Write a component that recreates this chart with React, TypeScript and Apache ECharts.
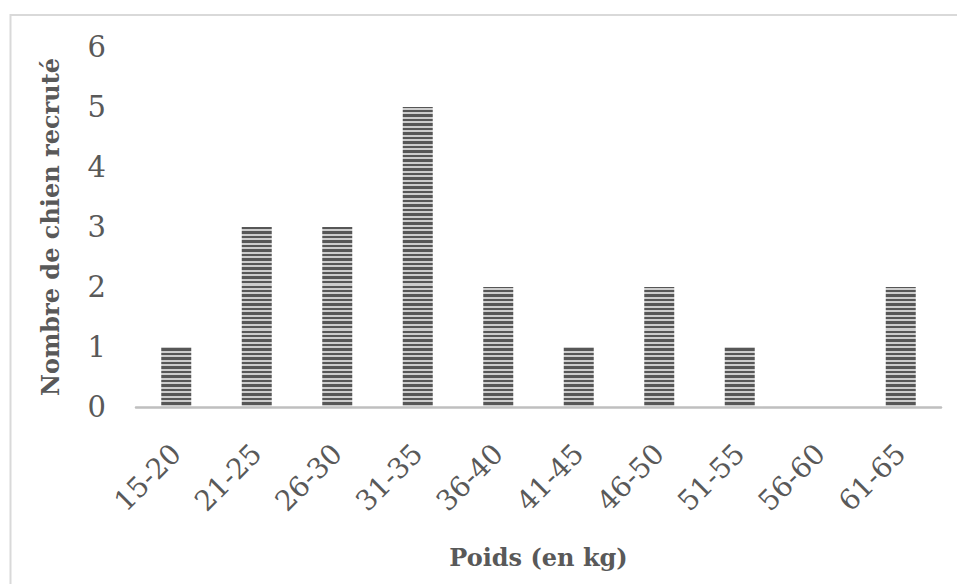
import React, { useEffect, useRef } from "react";
import * as echarts from "echarts";

const categories = ["15-20", "21-25", "26-30", "31-35", "36-40", "41-45", "46-50", "51-55", "56-60", "61-65"];
const counts = [1, 3, 3, 5, 2, 1, 2, 1, 0, 2];
const yTicks = { min: 0, max: 6, interval: 1 };
const xTitle = "Poids (en kg)";
const yTitle = "Nombre de chien recruté";

const GRID_TOP = 47;
const GRID_BOTTOM_Y = 407;

function stripeFill() {
  const stops: { offset: number; color: string }[] = [];
  const h = GRID_BOTTOM_Y - GRID_TOP;
  const period = 4.5;
  const n = Math.ceil(h / period);
  for (let i = 0; i < n; i++) {
    const a = (i * period) / h;
    const b = (i * period + 2.2) / h;
    const c = ((i + 1) * period) / h;
    stops.push({ offset: Math.min(a, 1), color: "#575757" });
    stops.push({ offset: Math.min(b, 1), color: "#575757" });
    stops.push({ offset: Math.min(b, 1), color: "#cdcdcd" });
    stops.push({ offset: Math.min(c, 1), color: "#cdcdcd" });
  }
  return new echarts.graphic.LinearGradient(0, GRID_TOP, 0, GRID_BOTTOM_Y, stops, true);
}

export default function App() {
  const ref = useRef<HTMLDivElement>(null);
  useEffect(() => {
    if (!ref.current) return;
    const chart = echarts.init(ref.current, null, { renderer: "svg" });
    const font = "DejaVu Serif";
    chart.setOption({
      animation: false,
      backgroundColor: "#ffffff",
      graphic: [
        {
          type: "rect",
          shape: { x: 10.5, y: 15, width: 960, height: 600 },
          style: { fill: "none", stroke: "#d9d9d9", lineWidth: 2 },
          silent: true,
        },
      ],
      grid: { left: 136, right: 16, top: GRID_TOP, bottom: 584 - GRID_BOTTOM_Y, containLabel: false },
      xAxis: {
        type: "category",
        data: categories,
        name: xTitle,
        nameLocation: "middle",
        nameGap: 138,
        nameTextStyle: { fontFamily: font, fontWeight: "bold", fontSize: 24, color: "#595959" },
        axisLine: { show: true, lineStyle: { color: "#bfbfbf", width: 2.5 } },
        axisTick: { show: false },
        axisLabel: {
          rotate: 45,
          margin: 42,
          fontFamily: font,
          fontSize: 28,
          color: "#595959",
        },
      },
      yAxis: {
        type: "value",
        min: yTicks.min,
        max: yTicks.max,
        interval: yTicks.interval,
        name: yTitle,
        nameLocation: "middle",
        nameGap: 74,
        nameTextStyle: { fontFamily: font, fontWeight: "bold", fontSize: 24, color: "#595959" },
        axisLine: { show: false },
        axisTick: { show: false },
        splitLine: { show: false },
        axisLabel: { margin: 30, fontFamily: font, fontSize: 29, color: "#595959" },
      },
      series: [
        {
          type: "bar",
          data: counts,
          barWidth: 30,
          itemStyle: { color: stripeFill() },
        },
      ],
    });
    return () => chart.dispose();
  }, []);
  return (
    <div
      ref={ref}
      style={{ position: "absolute", left: 0, top: 0, width: 957, height: 584 }}
    />
  );
}
